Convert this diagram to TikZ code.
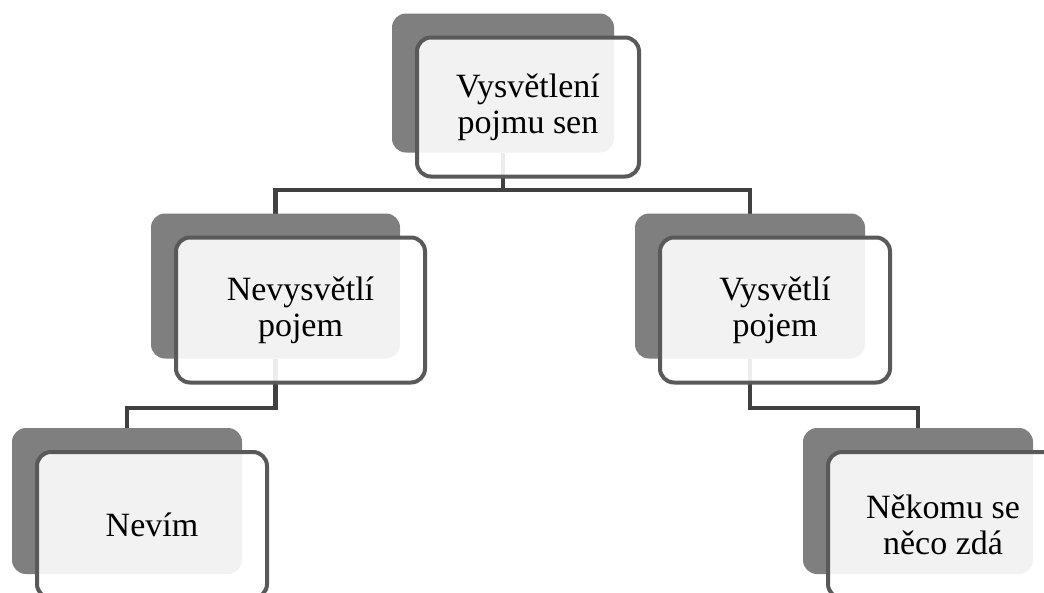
\documentclass[tikz,border=0pt]{standalone}
\usepackage{fontspec}
\setmainfont{Liberation Serif}
\usetikzlibrary{backgrounds}
\definecolor{shadegray}{HTML}{7F7F7F}
\definecolor{framegray}{HTML}{595959}
\definecolor{linkgray}{HTML}{404040}
\tikzset{
  backbox/.style={fill=shadegray, rounded corners=14pt, inner sep=0pt, outer sep=0pt},
  frontbox/.style={draw=framegray, line width=4pt, rounded corners=14pt, fill=white,
    fill opacity=0.9, text opacity=1, inner sep=0pt, outer sep=0pt, align=center,
    font=\fontsize{34}{36}\selectfont},
  link/.style={draw=linkgray, line width=4.5pt}
}
\begin{document}
\begin{tikzpicture}[x=1pt,y=-1pt]
   \useasboundingbox (0,0) rectangle (1044,592);

   % zadni plochy
   \node[backbox, minimum width=222pt, minimum height=139pt] (topb) at (503,83) {};
   \node[frontbox, minimum width=222pt, minimum height=139pt] (top) at (528,107) {Vysvětlení\\pojmu sen};

   \node[backbox, minimum width=249pt, minimum height=145pt] (nevb) at (275.5,286) {};
   \node[frontbox, minimum width=249pt, minimum height=145pt] (nev) at (300.5,310) {Nevysvětlí\\pojem};

   \node[backbox, minimum width=230pt, minimum height=145pt] (vysb) at (750,286) {};
   \node[frontbox, minimum width=230pt, minimum height=145pt] (vys) at (775,310) {Vysvětlí\\pojem};

   \node[backbox, minimum width=230pt, minimum height=146pt] (nevimb) at (127,501) {};
   \node[frontbox, minimum width=230pt, minimum height=146pt] (nevim) at (152,525) {Nevím};

   \node[backbox, minimum width=230pt, minimum height=146pt] (zdab) at (918,501) {};
   \node[frontbox, minimum width=230pt, minimum height=146pt] (zda) at (943,525) {Někomu se\\něco zdá};

   % spojnice
   \begin{pgfonlayer}{background}
      \coordinate (s1) at (503,190);
      \coordinate (s2) at (275.5,408);
      \coordinate (s3) at (750,408);
      \draw[link] (topb) -- (s1) -| (nevb);
      \draw[link] (s1) -| (vysb);
      \draw[link] (nevb) -- (s2) -| (nevimb);
      \draw[link] (vysb) -- (s3) -| (zdab);
   \end{pgfonlayer}

\end{tikzpicture}
\end{document}
